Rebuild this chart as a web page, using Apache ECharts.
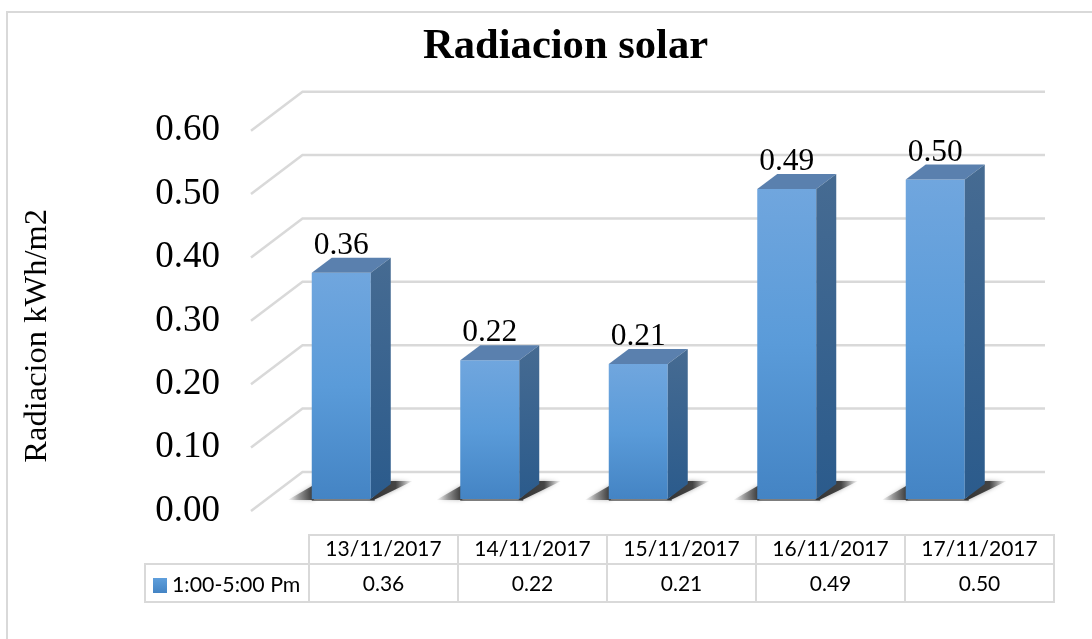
<!DOCTYPE html>
<html><head><meta charset="utf-8">
<script src="https://cdn.jsdelivr.net/npm/echarts@6/dist/echarts.min.js"></script>
<style>html,body{margin:0;padding:0;background:#fff}#c{width:1092px;height:639px}</style>
</head><body><div id="c"></div>
<script>
const categories = ['13/11/2017','14/11/2017','15/11/2017','16/11/2017','17/11/2017'];
const values = [0.357,0.219,0.213,0.489,0.504];
const valueLabels = ['0.36','0.22','0.21','0.49','0.50'];
const yTicks = [0,0.1,0.2,0.3,0.4,0.5,0.6];
const seriesName = '1:00-5:00 Pm';
const SERIF = '"Liberation Serif"';
const SANS = 'Lato';
const GRID = '#D9D9D9';
const WALL = {dx:51.5, dy:39};
const BAR = {gap:16, baseUp:12, dx:20, dy:15, width:59};
const grad = (a,b,c)=>({type:'linear',x:0,y:0,x2:0,y2:1,colorStops:c?[{offset:0,color:a},{offset:.5,color:b},{offset:1,color:c}]:[{offset:0,color:a},{offset:1,color:b}]});
const hgrad = (stops)=>({type:'linear',x:0,y:0,x2:1,y2:0,colorStops:stops});
const chart = echarts.init(document.getElementById('c'),null,{renderer:'canvas'});

function renderWall(p,api){
  const v=api.value(0);
  const a=api.coord([0,v]); const size=api.size([1,0]);
  const x0=a[0]-size[0]/2, y=a[1];
  const xe=x0+size[0]*categories.length+WALL.dx;
  return {type:'polyline',shape:{points:[[x0,y],[x0+WALL.dx,y-WALL.dy],[xe,y-WALL.dy]]},
    style:{stroke:GRID,lineWidth:2.5,fill:null},silent:true};
}
function renderBar(p,api){
  const i=api.value(0), v=api.value(1);
  const top=api.coord([i,v]), base=api.coord([i,0]);
  const xl=top[0]+BAR.gap-BAR.width/2, xr=xl+BAR.width;
  const yt=top[1]-BAR.baseUp, yb=base[1]-BAR.baseUp;
  const d=BAR;
  const soft={shadowBlur:4,shadowColor:'rgba(70,70,70,.45)'};
  return {type:'group',children:[
    {type:'polygon',shape:{points:[[xl-24,yb+1],[xl+2,yb-14],[xl+2,yb+1]]},
      style:Object.assign({fill:hgrad([{offset:0,color:'rgba(90,90,90,0)'},{offset:.45,color:'rgba(90,90,90,.55)'},{offset:1,color:'#333'}])},soft),silent:true},
    {type:'polygon',shape:{points:[[xl,yb-1],[xr+4,yb-1],[xr+4,yb+2],[xl,yb+2]]},
      style:{fill:'rgba(70,70,70,.7)'},silent:true},
    {type:'polygon',shape:{points:[[xr-1,yb+1],[xr+d.dx,yb-d.dy-3],[xr+42,yb-18],[xr+3,yb+1]]},
      style:Object.assign({fill:hgrad([{offset:0,color:'#333'},{offset:.6,color:'#444'},{offset:1,color:'rgba(110,110,110,0)'}])},soft),silent:true},
    {type:'rect',shape:{x:xl,y:yt,width:d.width,height:yb-yt},style:{fill:grad('#70A6DE','#5A9BD9','#4484C4')}},
    {type:'polygon',shape:{points:[[xl,yt],[xl+d.dx,yt-d.dy],[xr+d.dx,yt-d.dy],[xr,yt]]},style:{fill:'#5A80AE'}},
    {type:'polygon',shape:{points:[[xr,yt],[xr+d.dx,yt-d.dy],[xr+d.dx,yb-d.dy],[xr,yb]]},style:{fill:grad('#466B92','#2B5B8C')}},
    {type:'text',style:{text:valueLabels[i],x:(xl+xr)/2,y:yt-d.dy-12,align:'center',verticalAlign:'middle',
      font:'31.5px '+SERIF,fill:'#000'}}
  ]};
}
function renderCell(p,api){
  const i=api.value(0);
  const c=api.coord([i,0]), w=api.size([1,0])[0], h=api.size([0,1])[1], hh=29;
  const x=c[0]-w/2, y=c[1]-h/2;
  const st={fill:'none',stroke:GRID,lineWidth:2};
  return {type:'group',children:[
    {type:'rect',shape:{x,y:y-hh,width:w,height:hh},style:st,silent:true},
    {type:'rect',shape:{x,y,width:w,height:h},style:st,silent:true},
    {type:'text',style:{text:valueLabels[i],x:c[0],y:c[1]+1,align:'center',verticalAlign:'middle',font:'21px '+SANS,fill:'#000'}}
  ]};
}

chart.setOption({
  animation:false,
  backgroundColor:'#fff',
  title:{text:'Radiacion solar',left:418,top:20,itemGap:0,
    textStyle:{fontFamily:SERIF,fontWeight:'bold',fontSize:42.6,color:'#000'}},
  legend:{data:[{name:seriesName,icon:'rect',itemStyle:{color:grad('#5F9FDC','#4484C4')}}],
    left:148,top:570,itemWidth:14,itemHeight:15,itemGap:4,
    textStyle:{fontFamily:SANS,fontSize:21.3,color:'#000',padding:[0,0,0,0]}},
  graphic:[
    {type:'rect',z:-1,shape:{x:7,y:12,width:1200,height:700},style:{fill:'none',stroke:GRID,lineWidth:2},silent:true},
    {type:'rect',z:-1,shape:{x:145,y:564,width:164,height:38},style:{fill:'none',stroke:GRID,lineWidth:2},silent:true}
  ],
  grid:[
    {left:251,top:130.7,width:742.5,height:380.3},
    {left:309,top:564,width:745,height:38}
  ],
  xAxis:[
    {type:'category',gridIndex:0,data:categories,axisLabel:{show:false},axisLine:{show:false},axisTick:{show:false}},
    {type:'category',gridIndex:1,position:'top',data:categories,axisLine:{show:false},axisTick:{show:false},
      axisLabel:{fontFamily:SANS,fontSize:21,color:'#000',margin:4,interval:0}}
  ],
  yAxis:[
    {type:'value',gridIndex:0,min:0,max:0.6,interval:0.1,
      name:'Radiacion kWh/m2',nameLocation:'middle',nameGap:197,nameRotate:90,
      nameTextStyle:{fontFamily:SERIF,fontSize:32.5,color:'#000',padding:[0,30,0,0]},
      axisLine:{show:false},axisTick:{show:false},splitLine:{show:false},
      axisLabel:{fontFamily:SERIF,fontSize:37,color:'#000',margin:31,padding:[0,0,8,0],formatter:v=>v.toFixed(2)}},
    {type:'category',gridIndex:1,data:[seriesName],axisLine:{show:false},axisTick:{show:false},axisLabel:{show:false}}
  ],
  series:[
    {type:'custom',name:'wall',xAxisIndex:0,yAxisIndex:0,data:yTicks.map(v=>[v]),encode:{y:0},renderItem:renderWall,z:1,silent:true,clip:false},
    {type:'custom',name:seriesName,xAxisIndex:0,yAxisIndex:0,data:values.map((v,i)=>[i,v]),encode:{x:0,y:1},renderItem:renderBar,z:2,clip:false},
    {type:'custom',name:'table',xAxisIndex:1,yAxisIndex:1,data:values.map((v,i)=>[i,0]),encode:{x:0,y:1},renderItem:renderCell,z:3,clip:false,silent:true}
  ]
});
</script></body></html>
